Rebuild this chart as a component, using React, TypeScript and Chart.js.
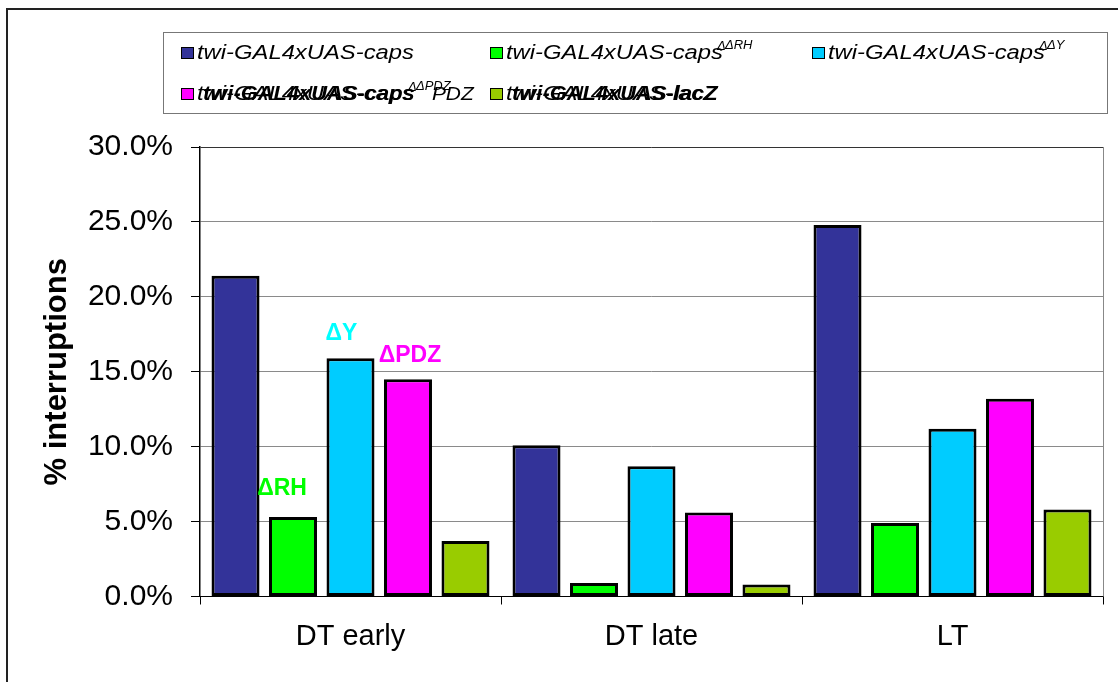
import React, { useEffect, useRef } from "react";
import { Chart, registerables } from "chart.js";

Chart.register(...registerables);

const categories = ["DT early", "DT late", "LT"];
const capsWT = [21.4, 10.1, 24.8];
const capsDRH = [5.3, 0.9, 4.9];
const capsDY = [15.9, 8.7, 11.2];
const capsDPDZ = [14.5, 5.6, 13.2];
const lacZ = [3.7, 0.8, 5.8];

const seriesBase = ["twi-GAL4xUAS-caps", "twi-GAL4xUAS-caps", "twi-GAL4xUAS-caps", "twi-GAL4xUAS-caps", "twi-GAL4xUAS-lacZ"];
const seriesSup = ["", "ΔRH", "ΔY", "ΔPDZ", ""];
const seriesColors = ["#333399", "#00FF00", "#00CCFF", "#FF00FF", "#99CC00"];
const seriesValues = [capsWT, capsDRH, capsDY, capsDPDZ, lacZ];

const yTickValues = [0, 5, 10, 15, 20, 25, 30];
const yTitle = "% interruptions";

const annotations = [
  { text: "ΔRH", dataset: 1, category: 0, color: "#00FF00" },
  { text: "ΔY", dataset: 2, category: 0, color: "#00FFFF" },
  { text: "ΔPDZ", dataset: 3, category: 0, color: "#FF00FF" },
];

const FONT = '"Liberation Sans", Arial, sans-serif';

function stretchText(ctx: CanvasRenderingContext2D, text: string, x: number, y: number, sx: number) {
  ctx.save();
  ctx.translate(x, y);
  ctx.scale(sx, 1);
  ctx.fillText(text, 0, 0);
  const w = ctx.measureText(text).width * sx;
  ctx.restore();
  return w;
}

const decorPlugin = {
  id: "decor",
  afterDraw(chart: any) {
    const ctx: CanvasRenderingContext2D = chart.ctx;
    const area = chart.chartArea;
    ctx.save();
    // right border of plot area
    ctx.strokeStyle = "#888";
    ctx.lineWidth = 1;
    ctx.beginPath();
    ctx.moveTo(Math.round(area.right) + 0.5, area.top);
    ctx.lineTo(Math.round(area.right) + 0.5, area.bottom);
    ctx.stroke();

    // outer frame
    ctx.strokeStyle = "#222";
    ctx.lineWidth = 2;
    ctx.strokeRect(7, 9, 1300, 900);

    // y title
    ctx.fillStyle = "#000";
    ctx.font = `bold 31px ${FONT}`;
    ctx.textAlign = "center";
    ctx.textBaseline = "middle";
    ctx.save();
    ctx.translate(57, (area.top + area.bottom) / 2);
    ctx.rotate(-Math.PI / 2);
    ctx.fillText(yTitle, 0, 0);
    ctx.restore();

    // annotations
    const offs: Record<string, [number, number]> = { "ΔRH": [-11, 22], "ΔY": [-9, 18], "ΔPDZ": [2, 17] };
    ctx.font = `bold 23px ${FONT}`;
    ctx.textAlign = "center";
    ctx.textBaseline = "alphabetic";
    annotations.forEach((a) => {
      const el = chart.getDatasetMeta(a.dataset).data[a.category];
      const o = offs[a.text] || [0, 18];
      ctx.fillStyle = a.color;
      ctx.fillText(a.text, el.x + o[0], el.y - o[1]);
    });

    // legend box
    ctx.strokeStyle = "#777";
    ctx.lineWidth = 1;
    ctx.strokeRect(163.5, 32.5, 944, 81);

    const sx = 1.19;
    const positions = [
      [181, 59], [490, 59], [812, 59],
      [181, 100], [490, 100],
    ];
    ctx.textAlign = "left";
    ctx.textBaseline = "alphabetic";
    chart.data.datasets.forEach((ds: any, i: number) => {
      const [px, py] = positions[i];
      ctx.fillStyle = ds.backgroundColor;
      ctx.fillRect(px, py - 12, 12, 11);
      ctx.strokeStyle = "#000";
      ctx.lineWidth = 1;
      ctx.strokeRect(px + 0.5, py - 11.5, 12, 11);
      ctx.fillStyle = "#000";
      const tx = px + 16;
      const doubled = i >= 3;
      ctx.font = `italic 20px ${FONT}`;
      const w = stretchText(ctx, seriesBase[i], tx, py, sx);
      if (doubled) {
        ctx.font = `italic bold 20px ${FONT}`;
        stretchText(ctx, seriesBase[i], tx + 6, py, sx * 0.92);
      }
      if (seriesSup[i]) {
        ctx.font = `italic 13px ${FONT}`;
        const sxPos = tx + w - 6;
        ctx.fillText("Δ", sxPos, py - 9);
        ctx.fillText(seriesSup[i], sxPos + 8, py - 10);
        if (doubled) {
          ctx.font = `italic 19px ${FONT}`;
          stretchText(ctx, seriesSup[i].slice(1), sxPos + 24, py, 1.1);
        }
      }
    });
    ctx.restore();
  },
};

export default function App() {
  const ref = useRef<HTMLCanvasElement>(null);
  useEffect(() => {
    if (!ref.current) return;
    const chart = new Chart(ref.current, {
      type: "bar",
      data: {
        labels: categories,
        datasets: seriesValues.map((vals, i) => ({
          label: seriesBase[i] + seriesSup[i],
          data: vals,
          backgroundColor: seriesColors[i],
          borderColor: "#000",
          borderWidth: 3,
          borderSkipped: false,
          categoryPercentage: 0.955,
          barPercentage: 0.835,
        })),
      },
      options: {
        responsive: false,
        animation: false,
        devicePixelRatio: 1,
        layout: { padding: { top: 147, right: 15, left: 0, bottom: 0 } },
        plugins: { legend: { display: false }, tooltip: { enabled: false }, title: { display: false } },
        scales: {
          x: {
            offset: true,
            afterFit: (s: any) => { s.height = 85.5; },
            grid: { display: true, drawOnChartArea: false, drawTicks: true, tickLength: 8, color: "#000", offset: true },
            border: { display: true, color: "#000", width: 1 },
            ticks: { color: "#000", font: { family: FONT, size: 29 }, padding: 15, maxRotation: 0, autoSkip: false },
          },
          y: {
            min: 0,
            max: 30,
            afterFit: (s: any) => { s.width = 200; },
            afterBuildTicks: (s: any) => { s.ticks = yTickValues.map((v) => ({ value: v })); },
            grid: {
              color: (c: any) => (c.tick && c.tick.value === 30 ? "#333" : "#8a8a8a"),
              tickColor: "#000",
              tickLength: 9,
              lineWidth: 1,
            },
            border: { display: true, color: "#000", width: 1.5 },
            ticks: {
              color: "#000",
              font: { family: FONT, size: 30 },
              padding: 18,
              callback: (v: any) => Number(v).toFixed(1) + "%",
            },
          },
        },
      },
      plugins: [decorPlugin],
    });
    return () => chart.destroy();
  }, []);
  return (
    <div style={{ position: "fixed", left: 0, top: 0, width: 1118, height: 682, background: "#fff" }}>
      <canvas ref={ref} width={1118} height={682} style={{ display: "block" }} />
    </div>
  );
}
